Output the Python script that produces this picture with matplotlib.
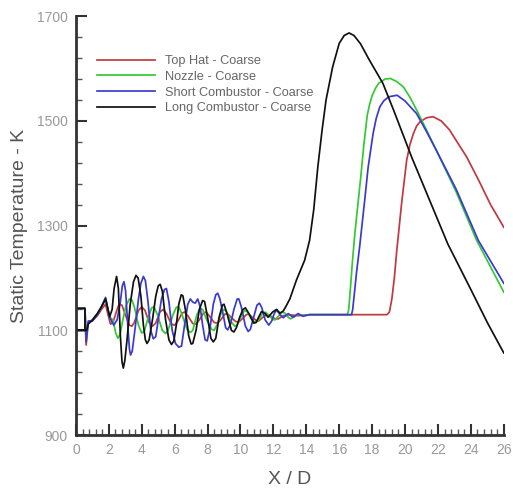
import numpy as np
import matplotlib
matplotlib.use('Agg')
import matplotlib.pyplot as plt

plt.rcParams['font.family'] = ['Liberation Sans', 'DejaVu Sans']

# Values: (X/D, static temperature in K)
labels = ['Top Hat - Coarse', 'Nozzle - Coarse', 'Short Combustor - Coarse', 'Long Combustor - Coarse']
colors = ['#c0393f', '#33c933', '#3a3ad0', '#111111']

top_hat = [
    (0, 1142), (0.55, 1142), (0.62, 1072), (0.75, 1115), (1.0, 1118), (1.3, 1128), (1.55, 1140),
    (1.8, 1150), (1.95, 1130), (2.1, 1112), (2.25, 1115), (2.45, 1135), (2.62, 1150), (2.8, 1148),
    (3.0, 1130), (3.25, 1110), (3.4, 1108), (3.55, 1115), (3.8, 1138), (4.0, 1145), (4.2, 1138),
    (4.45, 1115), (4.65, 1108), (4.85, 1114), (5.1, 1135), (5.3, 1140), (5.5, 1132), (5.8, 1112),
    (6.0, 1110), (6.2, 1118), (6.45, 1133), (6.6, 1135), (6.8, 1128), (7.1, 1113), (7.3, 1112),
    (7.5, 1120), (7.75, 1133), (7.9, 1135), (8.1, 1128), (8.4, 1115), (8.6, 1114), (8.8, 1120),
    (9.05, 1131), (9.2, 1132), (9.4, 1126), (9.7, 1117), (9.9, 1116), (10.1, 1122), (10.35, 1130),
    (10.5, 1131), (10.75, 1124), (11.0, 1118), (11.1, 1118), (11.4, 1126), (11.6, 1130),
    (11.8, 1128), (12.1, 1122), (12.3, 1122), (12.6, 1128), (12.9, 1130), (13.5, 1128),
    (14.2, 1130), (18.9, 1130), (19.05, 1135), (19.2, 1160), (19.35, 1200), (19.5, 1253),
    (19.8, 1345), (20.1, 1425), (20.3, 1455), (20.5, 1475), (20.7, 1490), (20.9, 1498),
    (21.3, 1506), (21.7, 1508), (22.2, 1500), (22.7, 1483), (23.2, 1458), (23.75, 1431),
    (24.5, 1385), (25.2, 1340), (26.0, 1297),
]

nozzle = [
    (0, 1142), (0.55, 1142), (0.6, 1088), (0.75, 1115), (1.0, 1120), (1.3, 1132), (1.55, 1145),
    (1.8, 1160), (2.05, 1125), (2.25, 1120), (2.42, 1095), (2.55, 1085), (2.68, 1092), (2.85, 1120),
    (3.05, 1148), (3.25, 1160), (3.4, 1158), (3.55, 1145), (3.8, 1110), (4.0, 1095), (4.15, 1098),
    (4.4, 1125), (4.6, 1143), (4.75, 1145), (4.95, 1130), (5.25, 1100), (5.45, 1094), (5.6, 1100),
    (5.9, 1130), (6.1, 1144), (6.25, 1145), (6.45, 1130), (6.75, 1102), (6.95, 1096), (7.1, 1100),
    (7.35, 1130), (7.55, 1142), (7.7, 1140), (7.95, 1120), (8.25, 1102), (8.4, 1100), (8.6, 1112),
    (8.85, 1135), (9.0, 1140), (9.15, 1136), (9.4, 1118), (9.65, 1108), (9.8, 1110), (10.05, 1128),
    (10.25, 1138), (10.4, 1136), (10.65, 1122), (10.9, 1115), (11.05, 1118), (11.3, 1130),
    (11.5, 1135), (11.7, 1130), (11.95, 1121), (12.1, 1120), (12.3, 1127), (12.55, 1135),
    (12.7, 1133), (12.9, 1125), (13.05, 1122), (13.25, 1126), (13.5, 1131), (13.8, 1128),
    (14.2, 1130), (16.5, 1130), (16.58, 1140), (16.68, 1180), (16.8, 1230), (16.95, 1285),
    (17.1, 1330), (17.3, 1390), (17.5, 1455), (17.7, 1510), (17.85, 1532), (18.0, 1548),
    (18.2, 1562), (18.4, 1572), (18.8, 1580), (19.12, 1581), (19.5, 1575), (19.9, 1565),
    (20.3, 1545), (20.7, 1521), (21.3, 1483), (21.9, 1444), (23.1, 1365), (24.35, 1272),
    (26.0, 1173),
]

short_comb = [
    (0, 1142), (0.55, 1142), (0.62, 1078), (0.75, 1118), (1.0, 1118), (1.3, 1130), (1.55, 1145),
    (1.8, 1163), (2.05, 1125), (2.3, 1110), (2.5, 1120), (2.68, 1150), (2.82, 1185), (2.92, 1193),
    (3.02, 1175), (3.15, 1110), (3.25, 1065), (3.32, 1053), (3.42, 1060), (3.6, 1105), (3.8, 1160),
    (3.95, 1190), (4.1, 1203), (4.22, 1195), (4.38, 1155), (4.55, 1100), (4.7, 1084), (4.85, 1088),
    (5.0, 1120), (5.2, 1160), (5.38, 1178), (5.5, 1180), (5.65, 1155), (5.85, 1100), (6.05, 1075),
    (6.25, 1068), (6.42, 1070), (6.6, 1110), (6.8, 1150), (6.95, 1160), (7.1, 1154), (7.25, 1152),
    (7.4, 1160), (7.55, 1145), (7.7, 1110), (7.85, 1082), (7.98, 1080), (8.15, 1105), (8.35, 1150),
    (8.5, 1168), (8.62, 1171), (8.75, 1160), (8.95, 1130), (9.1, 1105), (9.22, 1101), (9.4, 1112),
    (9.6, 1140), (9.8, 1160), (9.9, 1160), (10.05, 1145), (10.3, 1108), (10.47, 1098),
    (10.6, 1102), (10.8, 1125), (11.0, 1148), (11.15, 1152), (11.3, 1143), (11.5, 1120),
    (11.72, 1110), (11.9, 1118), (12.05, 1132), (12.2, 1139), (12.4, 1130), (12.6, 1124),
    (12.9, 1132), (13.2, 1125), (13.5, 1132), (13.8, 1127), (14.2, 1130), (16.75, 1130),
    (16.82, 1140), (16.92, 1170), (17.05, 1210), (17.25, 1262), (17.55, 1349), (17.76, 1412),
    (18.06, 1476), (18.25, 1505), (18.47, 1527), (18.7, 1538), (19.0, 1546), (19.52, 1549),
    (20.0, 1538), (20.7, 1514), (21.3, 1480), (21.9, 1444), (23.1, 1370), (24.45, 1272),
    (26.0, 1190),
]

long_comb = [
    (0, 1142), (0.55, 1142), (0.55, 1100), (0, 1100), (0.65, 1100), (0.75, 1112), (1.0, 1120),
    (1.3, 1132), (1.55, 1145), (1.8, 1160), (2.05, 1126), (2.2, 1140), (2.32, 1180), (2.47, 1203),
    (2.58, 1180), (2.7, 1090), (2.8, 1040), (2.88, 1028), (2.97, 1042), (3.1, 1080), (3.3, 1150),
    (3.5, 1193), (3.65, 1205), (3.78, 1200), (3.95, 1165), (4.1, 1110), (4.22, 1082), (4.32, 1075),
    (4.45, 1082), (4.65, 1120), (4.85, 1165), (5.0, 1185), (5.12, 1188), (5.25, 1175), (5.45, 1120),
    (5.65, 1082), (5.81, 1073), (5.95, 1080), (6.1, 1110), (6.25, 1150), (6.4, 1168), (6.5, 1166),
    (6.65, 1140), (6.85, 1090), (7.0, 1074), (7.1, 1075), (7.3, 1100), (7.5, 1140), (7.7, 1157),
    (7.82, 1155), (8.0, 1125), (8.2, 1085), (8.35, 1078), (8.5, 1085), (8.7, 1125), (8.9, 1148),
    (9.0, 1150), (9.2, 1130), (9.45, 1100), (9.6, 1097), (9.75, 1105), (9.95, 1125), (10.15, 1140),
    (10.3, 1143), (10.55, 1130), (10.8, 1114), (10.95, 1115), (11.1, 1125), (11.28, 1136),
    (11.5, 1132), (11.68, 1125), (11.95, 1135), (12.19, 1140), (12.4, 1133), (12.6, 1137),
    (12.8, 1148), (13.0, 1160), (13.4, 1196), (13.9, 1234), (14.2, 1272), (14.45, 1330),
    (14.7, 1412), (14.95, 1480), (15.2, 1540), (15.6, 1603), (16.0, 1648), (16.3, 1663),
    (16.6, 1668), (16.9, 1663), (17.3, 1647), (17.8, 1618), (18.65, 1572), (19.3, 1521),
    (20.4, 1431), (21.5, 1348), (22.6, 1265), (24.0, 1178), (25.0, 1115), (26.0, 1057),
]

series = [top_hat, nozzle, short_comb, long_comb]

fig = plt.figure(figsize=(5.13, 4.9), dpi=100)
ax = fig.add_axes([0.148, 0.112, 0.834, 0.855])

for pts, c, lab in zip(series, colors, labels):
    x, t = np.array(pts).T
    ax.plot(x, t, color=c, lw=1.25, label=lab)

ax.set_xlim(0, 26)
ax.set_ylim(900, 1700)
ax.set_xticks(np.arange(0, 27, 2))
ax.set_xticks(np.arange(0, 26.01, 0.4), minor=True)
ax.set_yticks(np.arange(900, 1701, 200))
ax.set_yticks(np.arange(900, 1701, 40), minor=True)

for s in ['top', 'right']:
    ax.spines[s].set_visible(False)
for s in ['left', 'bottom']:
    ax.spines[s].set_linewidth(2)
    ax.spines[s].set_color('#333333')

ax.tick_params(which='major', direction='in', length=8, width=1.5, color='#333333',
               labelsize=10, labelcolor='#999999', pad=6)
ax.tick_params(which='minor', direction='in', length=4, width=1, color='#555555')

ax.set_xlabel('X / D', fontsize=14, color='#555555', labelpad=10)
ax.set_ylabel('Static Temperature - K', fontsize=14, color='#555555', labelpad=6)

ax.legend(loc='upper left', bbox_to_anchor=(97 / 513, 1 - 55 / 490), bbox_transform=fig.transFigure,
          frameon=False, fontsize=9.2, labelcolor='#666666', handlelength=4.5, handletextpad=0.8,
          labelspacing=0.3, borderpad=0, borderaxespad=0)

fig.savefig('out.png', dpi=100)
